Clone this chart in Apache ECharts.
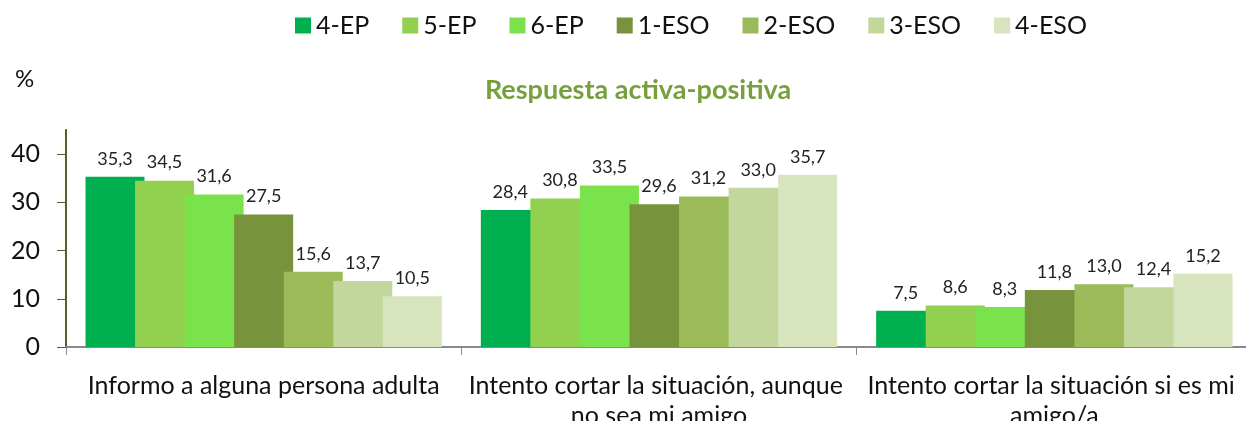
<!DOCTYPE html>
<html>
<head>
<meta charset="utf-8">
<script src="https://cdn.jsdelivr.net/npm/echarts@6/dist/echarts.min.js"></script>
<style>
  html, body { margin: 0; padding: 0; background: #fff; }
  #chart { width: 1246px; height: 421px; }
</style>
</head>
<body>
<div id="chart"></div>
<script>
// categories and series
const categories = [
  'Informo a alguna persona adulta',
  'Intento cortar la situación, aunque no sea mi amigo',
  'Intento cortar la situación si es mi amigo/a'
]
const groups = ['4-EP', '5-EP', '6-EP', '1-ESO', '2-ESO', '3-ESO', '4-ESO']
const ep4 = [35.3, 28.4, 7.5]
const ep5 = [34.5, 30.8, 8.6]
const ep6 = [31.6, 33.5, 8.3]
const eso1 = [27.5, 29.6, 11.8]
const eso2 = [15.6, 31.2, 13.0]
const eso3 = [13.7, 33.0, 12.4]
const eso4 = [10.5, 35.7, 15.2]
const yTicks = [0, 10, 20, 30, 40]

const values = [ep4, ep5, ep6, eso1, eso2, eso3, eso4]
const colors = ['#00b050', '#92d050', '#7ae24a', '#77933c', '#9bbb59', '#c3d69b', '#d7e4bd']
const font = 'Lato, "Open Sans", sans-serif'

const chart = echarts.init(document.getElementById('chart'))
chart.setOption({
  animation: false,
  textStyle: { fontFamily: font },
  title: [
    {
      text: 'Respuesta activa-positiva',
      left: 633,
      top: 72,
      textAlign: 'center',
      textStyle: { color: '#77a03c', fontSize: 27, fontWeight: 'bold', fontFamily: font }
    },
    {
      text: '%',
      left: 10,
      top: 62,
      textStyle: { color: '#111', fontSize: 24, fontWeight: 'normal', fontFamily: font }
    }
  ],
  legend: {
    data: groups,
    top: 8,
    left: 290,
    itemWidth: 16,
    itemHeight: 16,
    itemGap: 33,
    icon: 'rect',
    textStyle: { fontSize: 25, color: '#111', fontFamily: font }
  },
  grid: {
    left: 66,
    right: -6,
    top: 130,
    bottom: 74,
    outerBoundsMode: 'none',
    containLabel: false
  },
  xAxis: {
    type: 'category',
    data: categories,
    axisLine: { lineStyle: { color: '#898989', width: 2 } },
    axisTick: { show: true, length: 8, lineStyle: { color: '#898989' } },
    axisLabel: {
      interval: 0,
      fontSize: 25,
      color: '#111',
      margin: 24,
      lineHeight: 30,
      width: 396,
      overflow: 'break'
    }
  },
  yAxis: {
    type: 'value',
    min: 0,
    max: 45,
    interval: 10,
    splitLine: { show: false },
    axisLine: { show: true, lineStyle: { color: '#4f6228', width: 2 } },
    axisTick: { show: true, length: 9, lineStyle: { color: '#4f6228' } },
    axisLabel: {
      fontSize: 25,
      color: '#111',
      margin: 26,
      showMaxLabel: false,
      formatter: v => (yTicks.indexOf(v) >= 0 ? String(v) : '')
    }
  },
  series: groups.map((name, i) => ({
    name: name,
    type: 'bar',
    data: values[i],
    barWidth: 59,
    barGap: '-16%',
    itemStyle: { color: colors[i] },
    label: {
      show: true,
      position: 'top',
      distance: 9,
      fontSize: 18,
      color: '#222',
      formatter: p => p.value.toFixed(1).replace('.', ',')
    }
  }))
})
</script>
</body>
</html>
